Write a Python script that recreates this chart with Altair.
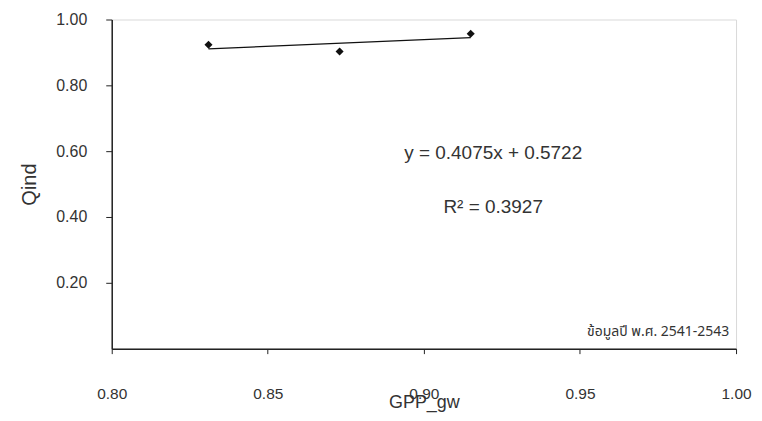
import altair as alt
import pandas as pd

# ---- data ----
gpp_gw = [0.831, 0.873, 0.915]
qind = [0.923, 0.903, 0.957]
x_ticks = [0.80, 0.85, 0.90, 0.95, 1.00]
y_ticks = [0.20, 0.40, 0.60, 0.80, 1.00]
eq_text = ["y = 0.4075x + 0.5722"]
r2_text = ["R² = 0.3927"]
note_text = ["ข้อมูลปี พ.ศ. 2541-2543"]

FONT = "Liberation Sans, Arial, sans-serif"
INK = "#222222"

pts = pd.DataFrame({"GPP_gw": gpp_gw, "Qind": qind})

x_scale = alt.Scale(domain=[0.80, 1.00], nice=False, zero=False)
y_scale = alt.Scale(domain=[0.0, 1.0], nice=False)

x_axis = alt.Axis(
    values=x_ticks, format=".2f", grid=False,
    domainColor=INK, domainWidth=1.5, tickColor=INK, tickSize=5,
    labelFont=FONT, labelFontSize=15.5, labelColor="#333333", labelPadding=33,
    labelFlush=False,
    title="GPP_gw", titleFont=FONT, titleFontSize=18, titleFontWeight="normal",
    titleColor="#333333", titleY=59, titleBaseline="alphabetic",
)
y_axis = alt.Axis(
    values=y_ticks, format=".2f", grid=False,
    domainColor=INK, domainWidth=1.5, tickColor=INK, tickSize=6,
    labelFont=FONT, labelFontSize=16, labelColor="#333333", labelPadding=19,
    title="Qind", titleFont=FONT, titleFontSize=20, titleFontWeight="normal",
    titleColor="#333333", titleAngle=-90, titleX=-76, titleY=165,
    titleAlign="center", titleBaseline="alphabetic",
)

base = alt.Chart(pts)

points = base.mark_point(shape="diamond", filled=True, color="#111111", size=65, opacity=1).encode(
    x=alt.X("GPP_gw:Q", scale=x_scale, axis=x_axis),
    y=alt.Y("Qind:Q", scale=y_scale, axis=y_axis),
)

trend = base.transform_regression("GPP_gw", "Qind").mark_line(
    color="#111111", strokeWidth=1.3
).encode(
    x=alt.X("GPP_gw:Q", scale=x_scale),
    y=alt.Y("Qind:Q", scale=y_scale),
)

eq = alt.Chart(pd.DataFrame({"t": eq_text, "GPP_gw": [0.9222], "Qind": [0.594]})).mark_text(
    font=FONT, fontSize=19, color="#333333", align="center", baseline="middle"
).encode(x=alt.X("GPP_gw:Q", scale=x_scale), y=alt.Y("Qind:Q", scale=y_scale), text="t:N")

r2 = alt.Chart(pd.DataFrame({"t": r2_text, "GPP_gw": [0.9222], "Qind": [0.430]})).mark_text(
    font=FONT, fontSize=19, color="#333333", align="center", baseline="middle"
).encode(x=alt.X("GPP_gw:Q", scale=x_scale), y=alt.Y("Qind:Q", scale=y_scale), text="t:N")

note = alt.Chart(pd.DataFrame({"t": note_text, "GPP_gw": [0.9978], "Qind": [0.0515]})).mark_text(
    font="Noto Sans Thai, Loma, Garuda, Liberation Sans, sans-serif", fontSize=14,
    fontWeight="normal", color="#333333", align="right", baseline="middle"
).encode(x=alt.X("GPP_gw:Q", scale=x_scale), y=alt.Y("Qind:Q", scale=y_scale), text="t:N")

chart = alt.layer(trend, points, eq, r2, note).properties(
    width=626, height=330,
    autosize=alt.AutoSizeParams(type="none"),
    padding={"left": 104, "top": 11, "right": 18, "bottom": 64},
    background="white",
).configure_view(stroke="#d9d9d9", strokeWidth=1)

chart.save("out.html", embed_options={"renderer": "svg", "actions": False})
